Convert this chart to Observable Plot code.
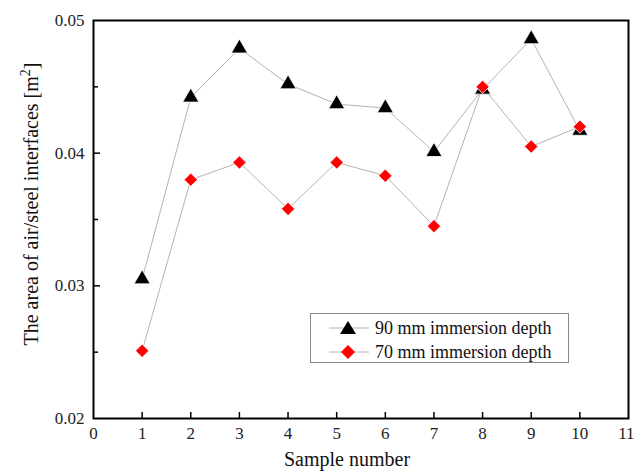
<!DOCTYPE html>
<html>
<head>
<meta charset="utf-8">
<script src="https://cdn.jsdelivr.net/npm/d3@7"></script>
<script src="https://cdn.jsdelivr.net/npm/@observablehq/plot@0.6"></script>
<style>
  html, body { margin: 0; padding: 0; background: #fff; }
  #wrap { position: relative; width: 634px; height: 475px; }
  #legend {
    position: absolute; left: 310px; top: 313px; width: 259px; height: 50px;
    border: 1px solid #8a8a8a; box-sizing: border-box; background: #fff;
    font-family: "Liberation Serif", serif; font-size: 18px; color: #111;
  }
  .row { position: absolute; left: 0; height: 22px; display: flex; align-items: center; }
  .row svg { display: block; }
  .row span { margin-left: 4px; white-space: nowrap; }
</style>
</head>
<body>
<div id="wrap"></div>
<script>
const samples = [1, 2, 3, 4, 5, 6, 7, 8, 9, 10];
const depth90 = [0.0305, 0.0442, 0.0479, 0.0452, 0.0437, 0.0434, 0.0401, 0.0448, 0.0486, 0.0417];
const depth70 = [0.0251, 0.0380, 0.0393, 0.0358, 0.0393, 0.0383, 0.0345, 0.0450, 0.0405, 0.0420];
const xTicks = [0, 1, 2, 3, 4, 5, 6, 7, 8, 9, 10, 11];
const yTicks = [0.02, 0.03, 0.04, 0.05];
const yMajorInner = [0.03, 0.04];
const yMinorTicks = [0.025, 0.035, 0.045];
const seriesNames = ["90 mm immersion depth", "70 mm immersion depth"];
const xLabel = "Sample number";
const yLabel = "The area of air/steel interfaces [m";

const d90 = samples.map((s, i) => ({x: s, y: depth90[i]}));
const d70 = samples.map((s, i) => ({x: s, y: depth70[i]}));

const W = 634, H = 475, mL = 93, mT = 20, mR = 6, mB = 57;
const frameW = W - mL - mR, frameH = H - mT - mB;

const chart = Plot.plot({
  width: W, height: H,
  marginLeft: mL, marginTop: mT, marginRight: mR, marginBottom: mB,
  x: {domain: [0, 11]},
  y: {domain: [0.02, 0.05]},
  style: {fontFamily: "Liberation Serif, serif", fontSize: "17px", color: "#222", background: "#fff"},
  marks: [
    Plot.axisX({ticks: xTicks.slice(0, 11), tickSize: 0, tickPadding: 8, tickFormat: d => String(d), label: null, fontSize: 17}),
    Plot.axisX({ticks: xTicks.slice(11), tickSize: 0, tickPadding: 8, tickFormat: d => String(d), label: null, fontSize: 17, textAnchor: "end", dx: 6}),
    Plot.axisY({ticks: yTicks, tickSize: 0, tickPadding: 9, tickFormat: d => d.toFixed(2), label: null, fontSize: 17}),
    Plot.tickX(samples, {x: d => d, insetTop: frameH - 6, stroke: "#000", strokeWidth: 1.5}),
    Plot.tickY(yMajorInner, {y: d => d, insetRight: frameW - 7, stroke: "#000", strokeWidth: 1.5}),
    Plot.tickY(yMinorTicks, {y: d => d, insetRight: frameW - 5, stroke: "#000", strokeWidth: 1.5}),
    Plot.line(d90, {x: "x", y: "y", stroke: "#b4b4b4", strokeWidth: 1}),
    Plot.line(d70, {x: "x", y: "y", stroke: "#b4b4b4", strokeWidth: 1}),
    Plot.dot(d90, {x: "x", y: "y", symbol: "triangle", r: 6, fill: "#000", stroke: "#fff", strokeWidth: 0.8}),
    Plot.dot(d70, {x: "x", y: "y", symbol: "diamond2", r: 6, fill: "#ff0000", stroke: "#fff", strokeWidth: 0.8}),
    Plot.frame({stroke: "#000", strokeWidth: 2})
  ]
});

const svg = d3.select(chart);
svg.append("text")
  .attr("x", 347).attr("y", 466)
  .attr("text-anchor", "middle")
  .attr("font-family", "Liberation Serif, serif").attr("font-size", 20).attr("fill", "#111")
  .text(xLabel);
const yl = svg.append("text")
  .attr("transform", "translate(38,204) rotate(-90)")
  .attr("text-anchor", "middle")
  .attr("font-family", "Liberation Serif, serif").attr("font-size", 20).attr("fill", "#111");
yl.append("tspan").text(yLabel);
yl.append("tspan").attr("dy", -8).attr("font-size", 14).text("2");
yl.append("tspan").attr("dy", 8).text("]");

const wrap = document.getElementById("wrap");
wrap.appendChild(chart);

const legend = document.createElement("div");
legend.id = "legend";
const shapes = [
  `<polygon points="21,4 29,17 13,17" fill="#000"/>`,
  `<polygon points="21,4 28,11 21,18 14,11" fill="#ff0000"/>`
];
seriesNames.forEach((name, i) => {
  const row = document.createElement("div");
  row.className = "row";
  row.style.top = (3 + i * 24) + "px";
  row.style.left = "16px";
  row.innerHTML = `<svg width="44" height="22"><line x1="2" y1="11" x2="42" y2="11" stroke="#b4b4b4" stroke-width="1"/>${shapes[i]}</svg><span>${name}</span>`;
  legend.appendChild(row);
});
wrap.appendChild(legend);
</script>
</body>
</html>
